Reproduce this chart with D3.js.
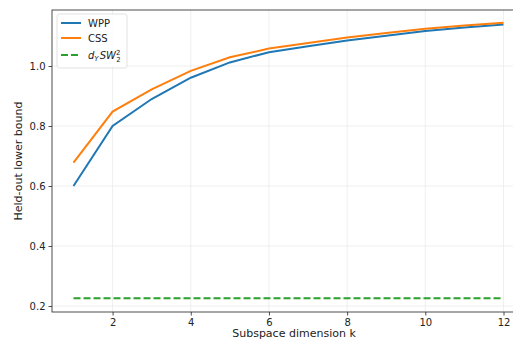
<!DOCTYPE html>
<html>
<head>
<meta charset="utf-8">
<script src="https://cdn.jsdelivr.net/npm/d3@7"></script>
<style>
  body { margin: 0; background: #fff; }
  svg { font-family: "DejaVu Sans", sans-serif; }
</style>
</head>
<body>
<svg id="chart" width="513" height="341"></svg>
<script>
var kValues = [1, 2, 3, 4, 5, 6, 7, 8, 9, 10, 11, 12];
var wppValues = [0.600, 0.800, 0.890, 0.961, 1.012, 1.046, 1.066, 1.085, 1.101, 1.117, 1.128, 1.138];
var cssValues = [0.678, 0.848, 0.922, 0.984, 1.029, 1.058, 1.077, 1.095, 1.110, 1.124, 1.135, 1.144];
var baselineValue = 0.226;
var xTicks = [2, 4, 6, 8, 10, 12];
var yTicks = [0.2, 0.4, 0.6, 0.8, 1.0];

var svg = d3.select("#chart");
var plotLeft = 52, plotRight = 525, plotTop = 10, plotBottom = 312;

var x = d3.scaleLinear().domain([0.45, 12.55]).range([plotLeft, plotRight]);
var y = d3.scaleLinear().domain([0.18, 1.1867]).range([plotBottom, plotTop]);

// grid
svg.append("g").selectAll("line").data(yTicks).enter().append("line")
    .attr("x1", plotLeft).attr("x2", plotRight)
    .attr("y1", function(d) { return y(d); })
    .attr("y2", function(d) { return y(d); })
    .attr("stroke", "#ebebeb").attr("stroke-width", 0.8);
svg.append("g").selectAll("line").data(xTicks).enter().append("line")
    .attr("y1", plotTop).attr("y2", plotBottom)
    .attr("x1", function(d) { return x(d); })
    .attr("x2", function(d) { return x(d); })
    .attr("stroke", "#ebebeb").attr("stroke-width", 0.8);

// axes
var xAxis = svg.append("g")
    .attr("transform", "translate(0," + plotBottom + ")")
    .call(d3.axisBottom(x).tickValues(xTicks).tickSize(3.5).tickPadding(3).tickFormat(d3.format("d")));
var yAxis = svg.append("g")
    .attr("transform", "translate(" + plotLeft + ",0)")
    .call(d3.axisLeft(y).tickValues(yTicks).tickSize(3.5).tickPadding(3).tickFormat(d3.format(".1f")));
[xAxis, yAxis].forEach(function(a) {
    a.select(".domain").remove();
    a.selectAll("text").style("font-size", "10px").style("font-family", "'DejaVu Sans', sans-serif").attr("fill", "#222");
    a.selectAll("line").attr("stroke", "#222").attr("stroke-width", 0.8);
});

// spines
svg.append("rect")
    .attr("x", plotLeft).attr("y", plotTop)
    .attr("width", plotRight - plotLeft).attr("height", plotBottom - plotTop)
    .attr("fill", "none").attr("stroke", "#222").attr("stroke-width", 0.8);

// lines
var line = d3.line()
    .x(function(d, i) { return x(kValues[i]); })
    .y(function(d) { return y(d); });

svg.append("path").datum(kValues.map(function() { return baselineValue; }))
    .attr("d", line).attr("fill", "none")
    .attr("stroke", "#2ca02c").attr("stroke-width", 2)
    .attr("stroke-dasharray", "7,3");
svg.append("path").datum(wppValues)
    .attr("d", line).attr("fill", "none")
    .attr("stroke", "#1f77b4").attr("stroke-width", 2);
svg.append("path").datum(cssValues)
    .attr("d", line).attr("fill", "none")
    .attr("stroke", "#ff7f0e").attr("stroke-width", 2);

// labels
svg.append("text")
    .attr("x", (plotLeft + 512) / 2 + 12).attr("y", 337)
    .attr("text-anchor", "middle")
    .style("font-size", "11px").attr("fill", "#222")
    .text("Subspace dimension k");
svg.append("text")
    .attr("transform", "translate(22," + ((plotTop + plotBottom) / 2) + ") rotate(-90)")
    .attr("text-anchor", "middle")
    .style("font-size", "11px").attr("fill", "#222")
    .text("Held-out lower bound");

// legend
var legend = svg.append("g");
legend.append("rect")
    .attr("x", 57).attr("y", 14).attr("width", 70).attr("height", 54)
    .attr("rx", 2.5).attr("fill", "#fff").attr("fill-opacity", 0.8)
    .attr("stroke", "#d9d9d9").attr("stroke-width", 0.8);
var items = [
    { color: "#1f77b4", dash: null, y: 23 },
    { color: "#ff7f0e", dash: null, y: 38 },
    { color: "#2ca02c", dash: "7,3", y: 55 }
];
items.forEach(function(it) {
    legend.append("line")
        .attr("x1", 61).attr("x2", 81).attr("y1", it.y).attr("y2", it.y)
        .attr("stroke", it.color).attr("stroke-width", 2)
        .attr("stroke-dasharray", it.dash);
});
legend.append("text").attr("x", 88).attr("y", 27).style("font-size", "10px").attr("fill", "#222").text("WPP");
legend.append("text").attr("x", 88).attr("y", 42).style("font-size", "10px").attr("fill", "#222").text("CSS");
var math = legend.append("text").attr("x", 88).attr("y", 59).style("font-size", "10px").attr("fill", "#222");
math.append("tspan").style("font-style", "italic").text("d");
math.append("tspan").style("font-style", "italic").style("font-size", "7px").attr("dy", 2).text("Y");
math.append("tspan").style("font-style", "italic").attr("dy", -2).attr("dx", 1).text("SW");
math.append("tspan").style("font-size", "7px").attr("dy", -4).text("2");
math.append("tspan").style("font-size", "7px").attr("dx", -4).attr("dy", 7).text("2");
</script>
</body>
</html>
